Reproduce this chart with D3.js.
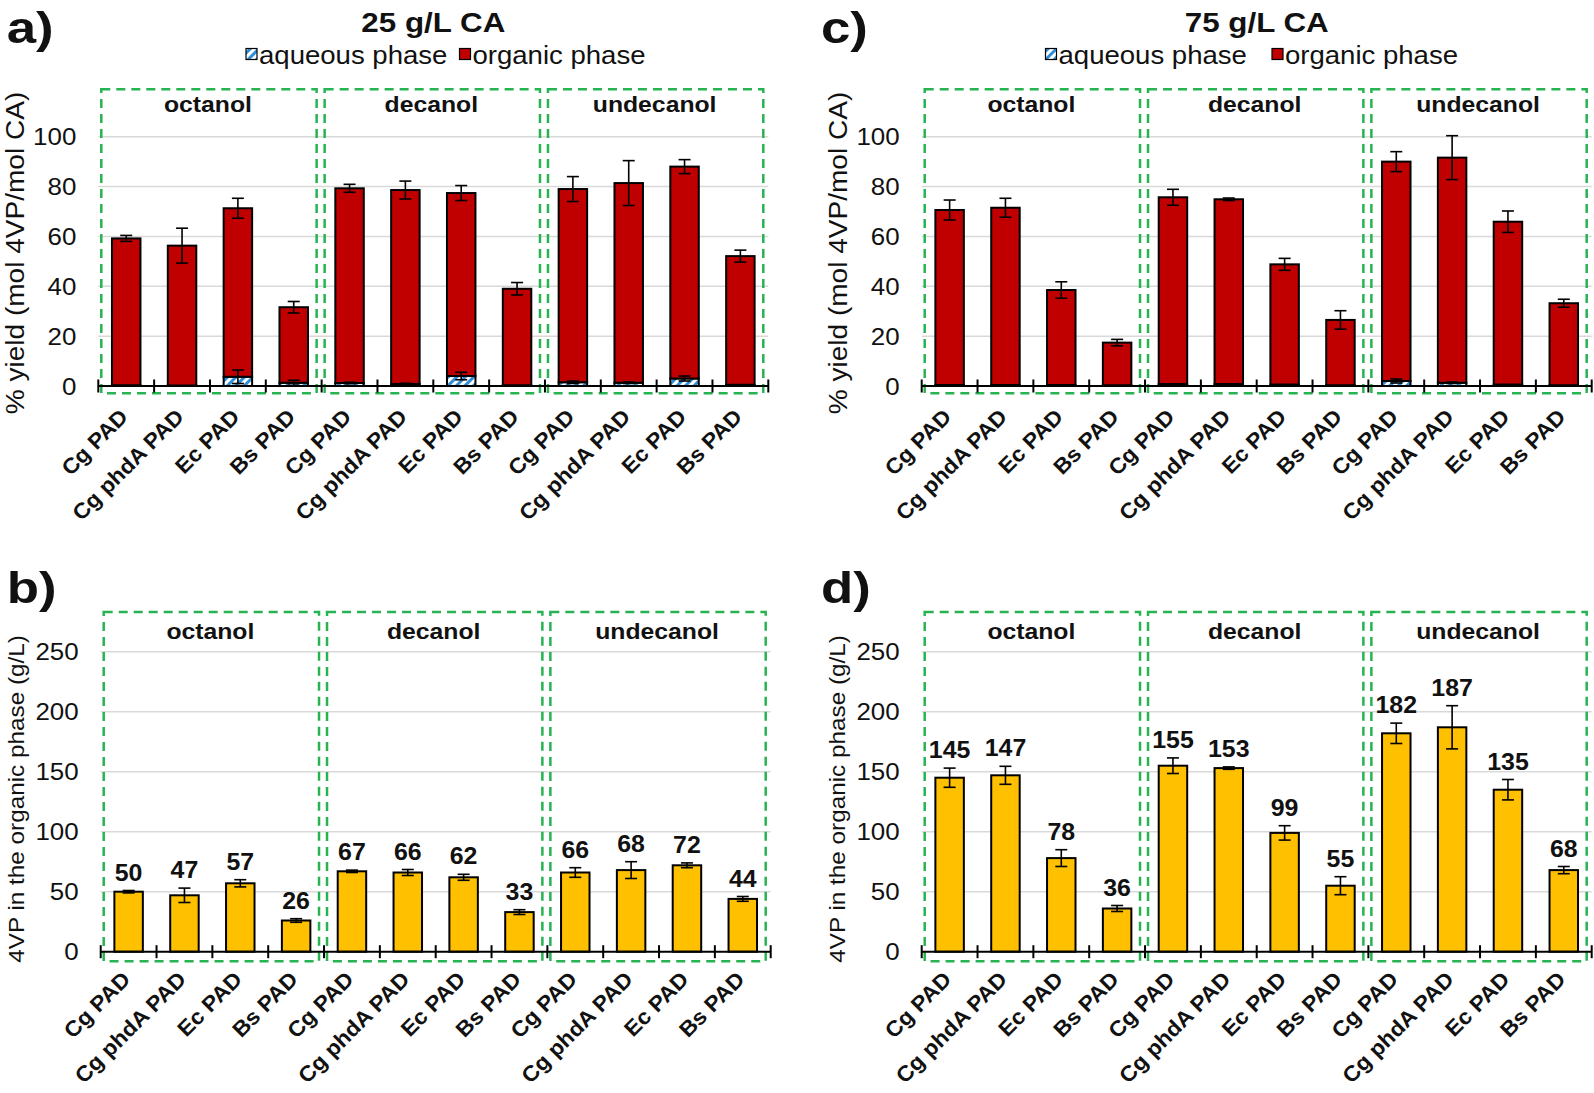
<!DOCTYPE html>
<html>
<head>
<meta charset="utf-8">
<script src="https://cdn.jsdelivr.net/npm/d3@7"></script>
<style>
body { margin: 0; background: #fff; }
text { font-family: "Liberation Sans", Arial, sans-serif; fill: #111; }
</style>
</head>
<body>
<script>
// categories
var strains = ["Cg PAD", "Cg phdA PAD", "Ec PAD", "Bs PAD"];
var solvents = ["octanol", "decanol", "undecanol"];
var yieldTicks = [20, 40, 60, 80, 100];
var concTicks = [50, 100, 150, 200, 250];
var yieldLabels = [0, 20, 40, 60, 80, 100];
var concLabels = [0, 50, 100, 150, 200, 250];

// % yield, 25 g/L CA (octanol x4, decanol x4, undecanol x4)
var aqueous25 = [0.3, 0.2, 3.7, 1.3, 1.2, 0.8, 4.0, 0.3, 1.5, 1.3, 3.0, 0.5];
var aqueousErr25 = [0, 0, 2.7, 1.0, 0.3, 0.3, 1.5, 0, 0.5, 0.3, 1.0, 0];
var organic25 = [58.9, 56.1, 67.6, 30.3, 78.1, 77.8, 73.4, 38.7, 77.5, 80.1, 85.0, 51.6];
var organicErr25 = [1.2, 7.0, 4.0, 2.3, 1.6, 3.6, 3.0, 2.5, 5.0, 9.0, 2.8, 2.4];

// % yield, 75 g/L CA
var aqueous75 = [0.4, 0.4, 0.4, 0.3, 0.8, 0.8, 0.6, 0.3, 2.0, 1.3, 0.6, 0.3];
var aqueousErr75 = [0, 0, 0, 0, 0, 0, 0, 0, 0.8, 0.3, 0, 0];
var organic75 = [70.2, 71.1, 38.1, 17.1, 74.9, 74.1, 48.2, 26.2, 88.0, 90.3, 65.3, 32.9];
var organicErr75 = [4.0, 3.8, 3.3, 1.3, 3.2, 0.5, 2.4, 3.7, 4.0, 8.8, 4.3, 1.6];

// 4VP in the organic phase (g/L)
var conc25 = [50, 47, 57, 26, 67, 66, 62, 33, 66, 68, 72, 44];
var concErr25 = [1, 6, 3, 1.5, 1, 2.5, 2.5, 2, 4, 7, 2, 2];
var conc75 = [145, 147, 78, 36, 155, 153, 99, 55, 182, 187, 135, 68];
var concErr75 = [8, 7.5, 7, 2.5, 6.5, 1, 6, 7.5, 8.5, 18, 8.5, 3];

var red = "#c00000", orange = "#ffc000", green = "#27b352", grid = "#d9d9d9";

var panels = [
	{letter: "a)", lx: 6.7, ly: 43, kind: "yield", title: "25 g/L CA", aq: aqueous25, aqErr: aqueousErr25,
	 org: organic25, orgErr: organicErr25, x0: 98.3, y0: 386, legend: [246, 459.5]},
	{letter: "c)", lx: 821, ly: 43, kind: "yield", title: "75 g/L CA", aq: aqueous75, aqErr: aqueousErr75,
	 org: organic75, orgErr: organicErr75, x0: 921.7, y0: 386, legend: [1045.5, 1272]},
	{letter: "b)", lx: 6.7, ly: 603, kind: "conc", val: conc25, err: concErr25, x0: 100.7, y0: 951.7},
	{letter: "d)", lx: 821, ly: 603, kind: "conc", val: conc75, err: concErr75, x0: 921.7, y0: 951.7}
];

var svg = d3.select("body").append("svg")
			.attr("width", 1594)
			.attr("height", 1093);

// hatch for the aqueous phase
var defs = svg.append("defs");
var pat = defs.append("pattern")
			.attr("id", "hatch")
			.attr("width", 6)
			.attr("height", 6)
			.attr("patternUnits", "userSpaceOnUse")
			.attr("patternTransform", "rotate(45)");
pat.append("rect").attr("width", 6).attr("height", 6).attr("fill", "#ffffff");
pat.append("rect").attr("width", 3).attr("height", 6).attr("fill", "#2f8fd6");

// text with a slight horizontal stretch, like the figure
function addText(g, str, x, y, o){
	o = o || {};
	var tr = "translate(" + x + "," + y + ")";
	if (o.rotate) tr += " rotate(" + o.rotate + ")";
	tr += " scale(" + (o.sx || 1.1) + ",1)";
	return g.append("text")
			.attr("transform", tr)
			.attr("text-anchor", o.anchor || "start")
			.attr("dominant-baseline", o.baseline || null)
			.attr("font-size", o.size)
			.attr("font-weight", o.bold ? "bold" : null)
			.text(str);
}

panels.forEach(drawPanel);

function drawPanel(p){
	var g = svg.append("g");
	var isYield = p.kind == "yield";
	var width = 670;
	var cats = d3.range(12);

	var xScale = d3.scaleBand()
				.domain(cats)
				.range([p.x0, p.x0 + width])
				.paddingInner(0.49)
				.paddingOuter(0.245);
	var step = xScale.step();
	var yScale = isYield
		? d3.scaleLinear().domain([0, 120]).range([p.y0, p.y0 - 120 * 2.493])
		: d3.scaleLinear().domain([0, 300]).range([p.y0, p.y0 - 300 * 1.2]);

	// panel letter
	addText(g, p.letter, p.lx, p.ly, {size: 44, bold: true, sx: 1.2});

	// title and legend
	if (isYield){
		addText(g, p.title, p.x0 + width / 2, 31.7, {size: 28.5, bold: true, anchor: "middle"});
		var items = [{fill: "url(#hatch)", label: "aqueous phase"}, {fill: red, label: "organic phase"}];
		items.forEach(function(d, i){
			g.append("rect")
				.attr("x", p.legend[i])
				.attr("y", 48.5)
				.attr("width", 11)
				.attr("height", 11)
				.attr("fill", d.fill)
				.attr("stroke", "#000")
				.attr("stroke-width", 1.2);
			addText(g, d.label, p.legend[i] + 13, 63.5, {size: 26.5, sx: 1.04});
		});
	}

	// gridlines
	g.append("g").selectAll("line")
		.data(isYield ? yieldTicks : concTicks)
		.enter().append("line")
		.attr("x1", p.x0)
		.attr("x2", p.x0 + width)
		.attr("y1", function(d){ return yScale(d); })
		.attr("y2", function(d){ return yScale(d); })
		.attr("stroke", grid)
		.attr("stroke-width", 1.5);

	// y tick labels
	(isYield ? yieldLabels : concLabels).forEach(function(d){
		addText(g, d, p.x0 - 22, yScale(d), {size: 24, anchor: "end", baseline: "central", sx: 1.08});
	});

	// y axis title
	if (isYield)
		addText(g, "% yield (mol 4VP/mol CA)", p.x0 - 83, 253,
			{size: 25.5, anchor: "middle", baseline: "central", rotate: -90});
	else
		addText(g, "4VP in the organic phase (g/L)", p.x0 - 84, 799,
			{size: 22.5, anchor: "middle", baseline: "central", rotate: -90, sx: 1.08});

	// solvent boxes
	var boxTop = isYield ? 89.3 : 612;
	var boxBottom = p.y0 + (isYield ? 7.3 : 9.5);
	solvents.forEach(function(s, i){
		var left = p.x0 + i * 4 * step;
		g.append("rect")
			.attr("x", left + 3)
			.attr("y", boxTop)
			.attr("width", 4 * step - 8)
			.attr("height", boxBottom - boxTop)
			.attr("fill", "none")
			.attr("stroke", green)
			.attr("stroke-width", 2.5)
			.attr("stroke-dasharray", "9,6");
		addText(g, s, left + 2 * step - 2, isYield ? 112 : 639, {size: 22.5, bold: true, anchor: "middle"});
	});

	// bars
	var bw = xScale.bandwidth();
	var bars = g.append("g");
	if (isYield){
		// aqueous phase at the bottom
		bars.selectAll("rect.aq")
			.data(cats)
			.enter().append("rect")
			.attr("class", "aq")
			.attr("x", function(i){ return xScale(i); })
			.attr("y", function(i){ return yScale(p.aq[i]); })
			.attr("width", bw)
			.attr("height", function(i){ return p.y0 - yScale(p.aq[i]); })
			.attr("fill", "url(#hatch)")
			.attr("stroke", "#000")
			.attr("stroke-width", 2);
		// organic phase stacked on top
		bars.selectAll("rect.org")
			.data(cats)
			.enter().append("rect")
			.attr("class", "org")
			.attr("x", function(i){ return xScale(i); })
			.attr("y", function(i){ return yScale(p.aq[i] + p.org[i]); })
			.attr("width", bw)
			.attr("height", function(i){ return yScale(p.aq[i]) - yScale(p.aq[i] + p.org[i]); })
			.attr("fill", red)
			.attr("stroke", "#000")
			.attr("stroke-width", 2);
		errorBars(bars, cats.map(function(i){
			return {i: i, v: p.aq[i] + p.org[i], e: p.orgErr[i]};
		}));
		errorBars(bars, cats.filter(function(i){ return p.aqErr[i] > 0; }).map(function(i){
			return {i: i, v: p.aq[i], e: p.aqErr[i]};
		}));
	}
	else {
		bars.selectAll("rect")
			.data(cats)
			.enter().append("rect")
			.attr("x", function(i){ return xScale(i); })
			.attr("y", function(i){ return yScale(p.val[i]); })
			.attr("width", bw)
			.attr("height", function(i){ return p.y0 - yScale(p.val[i]); })
			.attr("fill", orange)
			.attr("stroke", "#000")
			.attr("stroke-width", 2);
		errorBars(bars, cats.map(function(i){
			return {i: i, v: p.val[i], e: p.err[i]};
		}));
		// value labels
		cats.forEach(function(i){
			addText(g, p.val[i], xScale(i) + bw / 2, yScale(p.val[i] + p.err[i]) - 10,
				{size: 23.5, bold: true, anchor: "middle", sx: 1.06});
		});
	}

	function errorBars(sel, data){
		var eb = sel.append("g").selectAll("g")
				.data(data)
				.enter().append("g")
				.attr("stroke", "#000")
				.attr("stroke-width", 1.6);
		eb.append("line")
			.attr("x1", function(d){ return xScale(d.i) + bw / 2; })
			.attr("x2", function(d){ return xScale(d.i) + bw / 2; })
			.attr("y1", function(d){ return yScale(d.v - d.e); })
			.attr("y2", function(d){ return yScale(d.v + d.e); });
		[-1, 1].forEach(function(s){
			eb.append("line")
				.attr("x1", function(d){ return xScale(d.i) + bw / 2 - 6; })
				.attr("x2", function(d){ return xScale(d.i) + bw / 2 + 6; })
				.attr("y1", function(d){ return yScale(d.v + s * d.e); })
				.attr("y2", function(d){ return yScale(d.v + s * d.e); });
		});
	}

	// x axis with ticks between categories
	g.append("line")
		.attr("x1", p.x0)
		.attr("x2", p.x0 + width)
		.attr("y1", p.y0)
		.attr("y2", p.y0)
		.attr("stroke", "#000")
		.attr("stroke-width", 2);
	g.append("g").selectAll("line")
		.data(d3.range(13))
		.enter().append("line")
		.attr("x1", function(k){ return p.x0 + k * step; })
		.attr("x2", function(k){ return p.x0 + k * step; })
		.attr("y1", p.y0 - 6.5)
		.attr("y2", p.y0 + 6.5)
		.attr("stroke", "#000")
		.attr("stroke-width", 2);

	// rotated category labels
	cats.forEach(function(i){
		addText(g, strains[i % 4], xScale(i) + bw / 2 + 3, p.y0 + (isYield ? 32 : 29),
			{size: 21.5, bold: true, anchor: "end", rotate: -45, sx: 1.06});
	});
}
</script>
</body>
</html>
